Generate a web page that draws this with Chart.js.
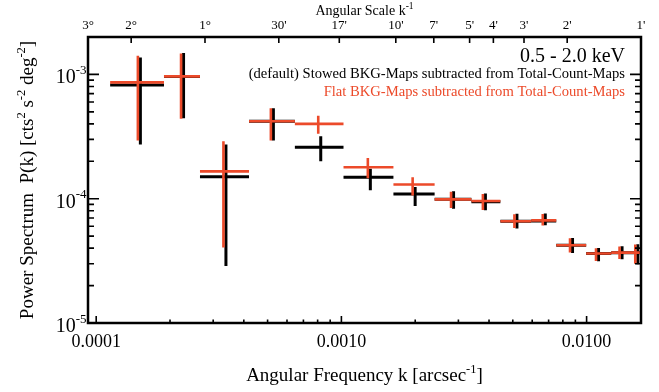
<!DOCTYPE html>
<html lang="en">
<head>
<meta charset="UTF-8">
<title>Power Spectrum 0.5 - 2.0 keV</title>
<style>
    html, body { margin: 0; padding: 0; background: #fff; }
    canvas { display: block; }
</style>
</head>
<body>
<canvas id="psChart" width="659" height="392"></canvas>

<script src="https://cdn.jsdelivr.net/npm/chart.js"></script>
<script>
    // angular frequency bins k [arcsec^-1]
    const kCenter = [1.50e-4, 2.25e-4, 3.35e-4, 5.23e-4, 8.16e-4, 1.30e-3, 1.98e-3, 2.84e-3, 3.83e-3, 5.15e-3, 6.72e-3, 8.68e-3, 1.108e-2, 1.382e-2, 1.602e-2];
    const kLow    = [1.14e-4, 1.89e-4, 2.65e-4, 4.20e-4, 6.46e-4, 1.02e-3, 1.63e-3, 2.40e-3, 3.39e-3, 4.45e-3, 5.95e-3, 7.52e-3, 9.96e-3, 1.26e-2, 1.577e-2];
    const kHigh   = [1.89e-4, 2.65e-4, 4.20e-4, 6.46e-4, 1.02e-3, 1.63e-3, 2.40e-3, 3.39e-3, 4.45e-3, 5.95e-3, 7.52e-3, 9.96e-3, 1.26e-2, 1.577e-2, 1.98e-2];

    // (default) stowed background maps subtracted
    const pStowed  = [8.22e-4, 9.64e-4, 1.50e-4, 4.20e-4, 2.60e-4, 1.49e-4, 1.09e-4, 9.88e-5, 9.44e-5, 6.58e-5, 6.62e-5, 4.22e-5, 3.62e-5, 3.68e-5, 3.68e-5];
    const stowedLo = [2.73e-4, 4.44e-4, 2.88e-5, 2.94e-4, 2.00e-4, 1.17e-4, 8.73e-5, 8.32e-5, 8.06e-5, 5.75e-5, 6.11e-5, 3.66e-5, 3.14e-5, 3.26e-5, 2.97e-5];
    const stowedHi = [1.37e-3, 1.49e-3, 2.73e-4, 5.34e-4, 3.18e-4, 1.74e-4, 1.24e-4, 1.15e-4, 1.10e-4, 7.56e-5, 7.59e-5, 4.83e-5, 4.02e-5, 4.15e-5, 4.30e-5];

    // flat background maps subtracted
    const pFlat  = [8.63e-4, 9.64e-4, 1.66e-4, 4.20e-4, 4.00e-4, 1.79e-4, 1.30e-4, 9.88e-5, 9.58e-5, 6.58e-5, 6.70e-5, 4.22e-5, 3.62e-5, 3.68e-5, 3.68e-5];
    const flatLo = [2.94e-4, 4.39e-4, 4.05e-5, 2.94e-4, 3.33e-4, 1.46e-4, 1.06e-4, 8.40e-5, 8.10e-5, 5.80e-5, 6.10e-5, 3.70e-5, 3.15e-5, 3.27e-5, 3.00e-5];
    const flatHi = [1.41e-3, 1.47e-3, 2.90e-4, 5.34e-4, 4.66e-4, 2.13e-4, 1.49e-4, 1.14e-4, 1.09e-4, 7.50e-5, 7.55e-5, 4.80e-5, 4.00e-5, 4.12e-5, 4.28e-5];

    // axis ticks
    const xTickValues = [1e-4, 1e-3, 1e-2];
    const xTickLabels = ['0.0001', '0.0010', '0.0100'];
    const yTickValues = [1e-5, 1e-4, 1e-3];
    const yTickExps   = ['-5', '-4', '-3'];
    const scaleArcmin = [180, 120, 60, 30, 17, 10, 7, 5, 4, 3, 2, 1];
    const scaleLabels = ['3\u00b0', '2\u00b0', '1\u00b0', "30'", "17'", "10'", "7'", "5'", "4'", "3'", "2'", "1'"];

    const RED = 'rgb(236,74,42)';
    const SERIF = '"Liberation Serif", "Times New Roman", serif';

    // text with superscript pieces: parts = [[text, isSup], ...]
    function richText(ctx, parts, x, y, align, size, supSize, rise) {
        let w = 0;
        parts.forEach(([t, s]) => {
            ctx.font = (s ? supSize : size) + 'px ' + SERIF;
            w += ctx.measureText(t).width;
        });
        let cx = align === 'right' ? x - w : align === 'center' ? x - w / 2 : x;
        ctx.textAlign = 'left';
        ctx.textBaseline = 'alphabetic';
        parts.forEach(([t, s]) => {
            ctx.font = (s ? supSize : size) + 'px ' + SERIF;
            ctx.fillText(t, cx, s ? y - rise : y);
            cx += ctx.measureText(t).width;
        });
    }

    function drawSeries(ctx, xs, ys, p, lo, hi, color, dx, w) {
        ctx.strokeStyle = color;
        ctx.lineWidth = w;
        ctx.lineCap = 'butt';
        for (let i = 0; i < p.length; i++) {
            const yc = ys.getPixelForValue(p[i]);
            const xc = xs.getPixelForValue(kCenter[i]) + dx;
            ctx.beginPath();
            ctx.moveTo(xs.getPixelForValue(kLow[i]), yc);
            ctx.lineTo(xs.getPixelForValue(kHigh[i]), yc);
            ctx.moveTo(xc, ys.getPixelForValue(lo[i]));
            ctx.lineTo(xc, ys.getPixelForValue(hi[i]));
            ctx.stroke();
        }
    }

    const errorBars = {
        id: 'errorBars',
        afterDatasetsDraw(chart) {
            const { ctx, chartArea: a, scales: { x, y } } = chart;
            ctx.save();
            ctx.beginPath();
            ctx.rect(a.left, a.top, a.right - a.left, a.bottom - a.top);
            ctx.clip();
            drawSeries(ctx, x, y, pStowed, stowedLo, stowedHi, '#000', 1, 3);
            drawSeries(ctx, x, y, pFlat, flatLo, flatHi, RED, -1.5, 2.6);
            ctx.restore();
        }
    };

    const frame = {
        id: 'frame',
        afterDraw(chart) {
            const { ctx, chartArea: a, scales: { x, y } } = chart;
            ctx.save();
            ctx.strokeStyle = '#000';
            ctx.fillStyle = '#000';

            // ticks
            ctx.lineWidth = 1.6;
            ctx.beginPath();
            for (let d = -5; d <= -2; d++) {
                for (let m = 1; m <= 9; m++) {
                    const v = m * Math.pow(10, d);
                    if (v >= x.min && v <= x.max) {
                        const px = x.getPixelForValue(v);
                        ctx.moveTo(px, a.bottom);
                        ctx.lineTo(px, a.bottom - (m === 1 ? 7 : 3.5));
                    }
                    if (v >= y.min && v <= y.max) {
                        const py = y.getPixelForValue(v);
                        const len = m === 1 ? 11 : 6;
                        ctx.moveTo(a.left, py);
                        ctx.lineTo(a.left + len, py);
                        ctx.moveTo(a.right, py);
                        ctx.lineTo(a.right - len, py);
                    }
                }
            }
            scaleArcmin.forEach(am => {
                const px = x.getPixelForValue(1 / (am * 60));
                ctx.moveTo(px, a.top);
                ctx.lineTo(px, a.top + 6);
            });
            ctx.stroke();

            // box
            ctx.lineWidth = 2.5;
            ctx.strokeRect(a.left, a.top, a.right - a.left, a.bottom - a.top);

            // bottom tick labels
            ctx.font = '18px ' + SERIF;
            ctx.textAlign = 'center';
            ctx.textBaseline = 'alphabetic';
            xTickValues.forEach((v, i) => ctx.fillText(xTickLabels[i], x.getPixelForValue(v), 347));

            // left tick labels
            yTickValues.forEach((v, i) => {
                const py = y.getPixelForValue(v);
                richText(ctx, [['10', false], [yTickExps[i], true]], a.left - 1.5, py + 9, 'right', 20, 13, 9.5);
            });

            // top (angular scale) tick labels
            ctx.font = '13px ' + SERIF;
            ctx.textAlign = 'center';
            scaleArcmin.forEach((am, i) => ctx.fillText(scaleLabels[i], x.getPixelForValue(1 / (am * 60)), 29));

            // axis titles
            const xm = (a.left + a.right) / 2;
            richText(ctx, [['Angular Scale k', false], ['-1', true]], xm, 15, 'center', 14, 9.5, 6);
            richText(ctx, [['Angular Frequency k [arcsec', false], ['-1', true], [']', false]], xm, 381, 'center', 19, 12.5, 8);
            ctx.translate(33, (a.top + a.bottom) / 2);
            ctx.rotate(-Math.PI / 2);
            richText(ctx, [['Power Spectrum  P(k) [cts', false], ['2', true], [' s', false], ['-2', true],
                           [' deg', false], ['-2', true], [']', false]], 0, 0, 'center', 19, 12.5, 8);
            ctx.setTransform(1, 0, 0, 1, 0, 0);

            // energy band and series notes
            ctx.textAlign = 'right';
            ctx.font = '20px ' + SERIF;
            ctx.fillText('0.5 - 2.0 keV', 625, 62);
            ctx.font = '14.6px ' + SERIF;
            ctx.fillText('(default) Stowed BKG-Maps subtracted from Total-Count-Maps', 625, 78);
            ctx.fillStyle = RED;
            ctx.fillText('Flat BKG-Maps subtracted from Total-Count-Maps', 625, 95.5);
            ctx.restore();
        }
    };

    const psChart = new Chart(document.getElementById('psChart'), {
        type: 'scatter',
        data: {
            datasets: [
                {
                    label: '(default) Stowed BKG-Maps subtracted from Total-Count-Maps',
                    data: kCenter.map((k, i) => ({ x: k, y: pStowed[i] })),
                    pointRadius: 0
                },
                {
                    label: 'Flat BKG-Maps subtracted from Total-Count-Maps',
                    data: kCenter.map((k, i) => ({ x: k, y: pFlat[i] })),
                    pointRadius: 0
                }
            ]
        },
        options: {
            responsive: false,
            animation: false,
            events: [],
            layout: { padding: { left: 88, right: 18, top: 37, bottom: 69 } },
            plugins: { legend: { display: false }, tooltip: { enabled: false } },
            scales: {
                x: { type: 'logarithmic', min: 1 / 10800, max: 1 / 60, display: false },
                y: { type: 'logarithmic', min: 1e-5, max: 2e-3, display: false }
            }
        },
        plugins: [errorBars, frame]
    });
</script>
</body>
</html>
